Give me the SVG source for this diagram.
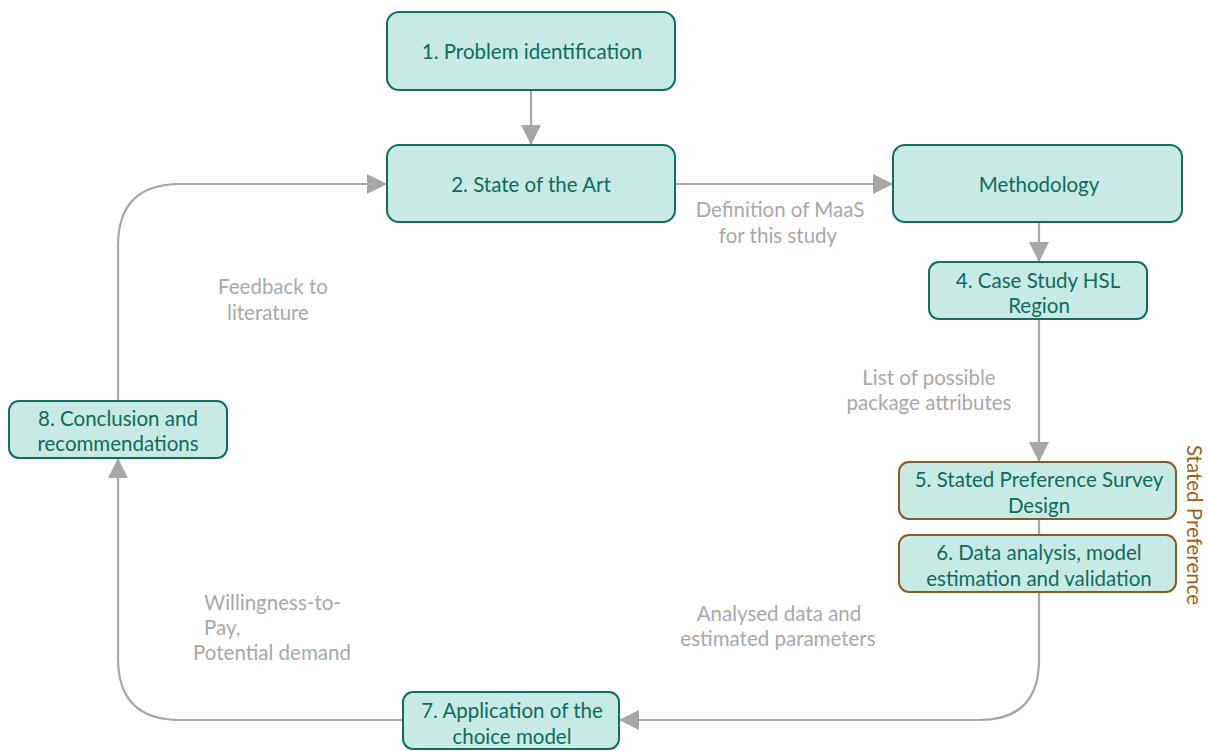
<svg xmlns="http://www.w3.org/2000/svg" width="1208" height="751" viewBox="0 0 1208 751">
<style>
.box{fill:#c7eae4;stroke:#106d62;stroke-width:2}
.sp{fill:#c7eae4;stroke:#8a5a22;stroke-width:2}
.t{font-family:Lato,"Open Sans",sans-serif;font-size:20.5px;fill:#0f6a5e;text-anchor:middle}
.l{font-family:Lato,"Open Sans",sans-serif;font-size:20.5px;fill:#a8a8a8;text-anchor:middle}
.c{fill:none;stroke:#a6a6a6;stroke-width:2.2}
</style>
<defs>
<marker id="b" viewBox="0 0 20 20" refX="20" refY="10" markerWidth="20" markerHeight="20" markerUnits="userSpaceOnUse" orient="auto"><path d="M0,0 L20,10 L0,20 z" fill="#a6a6a6"/></marker>
</defs>
<rect width="1208" height="751" fill="#fff"/>
<g id="connectors">
<path class="c" d="M531,90 V145" marker-end="url(#b)"/>
<path class="c" d="M675,184 H893" marker-end="url(#b)"/>
<path class="c" d="M1039,222 V262" marker-end="url(#b)"/>
<path class="c" d="M1039,319 V462" marker-end="url(#b)"/>
<path class="c" d="M1039,519 V535"/>
<path class="c" d="M1039,592 V660 Q1039,720 979,720 H619" marker-end="url(#b)"/>
<path class="c" d="M403,720 H180 Q118,720 118,658 V458" marker-end="url(#b)"/>
<path class="c" d="M118,401 V246 Q118,184 180,184 H387" marker-end="url(#b)"/>
</g>
<g id="labels">
<text class="l" x="780" y="217">Definition of MaaS</text>
<text class="l" x="778" y="243">for this study</text>
<text class="l" x="273" y="294">Feedback to</text>
<text class="l" x="268" y="320">literature</text>
<text class="l" x="929" y="385">List of possible</text>
<text class="l" x="929" y="410">package attributes</text>
<text class="l" x="204" y="610" style="text-anchor:start">Willingness-to-</text>
<text class="l" x="204" y="635" style="text-anchor:start">Pay,</text>
<text class="l" x="272" y="660">Potential demand</text>
<text class="l" x="779" y="621">Analysed data and</text>
<text class="l" x="778" y="646">estimated parameters</text>
<text class="l" transform="translate(1187,525) rotate(90)" x="0" y="0" style="fill:#9a5f1c">Stated Preference</text>
</g>
<g id="n1"><rect class="box" x="387" y="12" width="288" height="78" rx="12"/><text class="t" x="532" y="59">1. Problem identification</text></g>
<g id="n2"><rect class="box" x="387" y="145" width="288" height="77" rx="12"/><text class="t" x="531" y="192">2. State of the Art</text></g>
<g id="n3"><rect class="box" x="893" y="145" width="289" height="77" rx="12"/><text class="t" x="1039" y="192">Methodology</text></g>
<g id="n4"><rect class="box" x="929" y="262" width="218" height="57" rx="10"/><text class="t" x="1038" y="288">4. Case Study HSL</text><text class="t" x="1039" y="313">Region</text></g>
<g id="n5"><rect class="sp" x="899" y="462" width="277" height="57" rx="10"/><text class="t" x="1039" y="487">5. Stated Preference Survey</text><text class="t" x="1039" y="513">Design</text></g>
<g id="n6"><rect class="sp" x="899" y="535" width="277" height="57" rx="10"/><text class="t" x="1039" y="560">6. Data analysis, model</text><text class="t" x="1039" y="586">estimation and validation</text></g>
<g id="n7"><rect class="box" x="403" y="692" width="216" height="57" rx="10"/><text class="t" x="512" y="718">7. Application of the</text><text class="t" x="512" y="744">choice model</text></g>
<g id="n8"><rect class="box" x="9" y="401" width="218" height="57" rx="10"/><text class="t" x="118" y="426">8. Conclusion and</text><text class="t" x="118" y="451">recommendations</text></g>
</svg>
